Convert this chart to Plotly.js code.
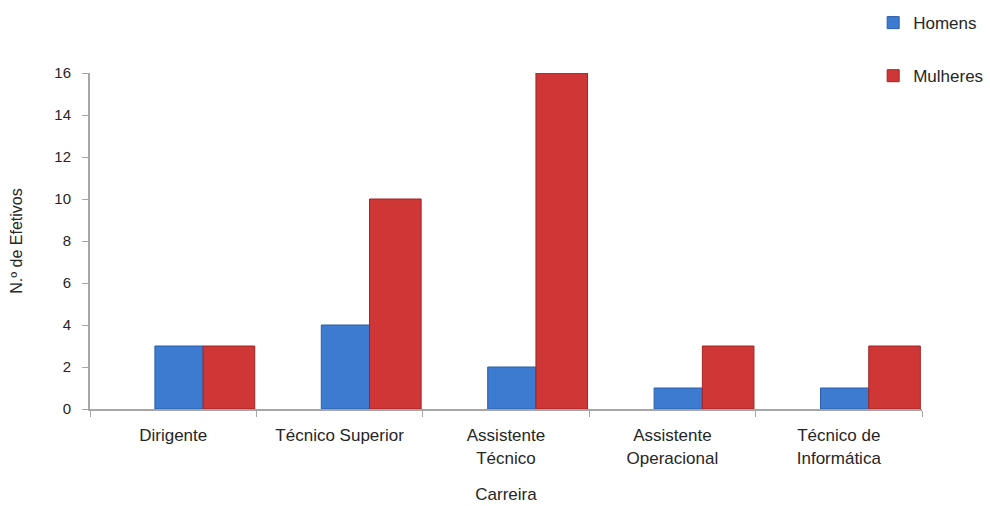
<!DOCTYPE html>
<html>
<head>
<meta charset="utf-8">
<script src="https://cdn.plot.ly/plotly-3.0.1.min.js"></script>
<style>html,body{margin:0;padding:0;background:#fff;}#chart{width:990px;height:506px;}</style>
</head>
<body>
<div id="chart"></div>
<script>
const categories = ["Dirigente", "Técnico Superior", "Assistente<br>Técnico", "Assistente<br>Operacional", "Técnico de<br>Informática"];
const homens = [3, 4, 2, 1, 1];
const mulheres = [3, 10, 16, 3, 3];
const seriesNames = ["Homens", "Mulheres"];

const traces = [
  {
    type: "bar", name: seriesNames[0], x: categories, y: homens,
    offset: -0.11, width: 0.29,
    marker: {color: "#3c7bd0", line: {color: "#2a5ea8", width: 1}},
    legendgroup: "a"
  },
  {
    type: "bar", name: seriesNames[1], x: categories, y: mulheres,
    offset: 0.18, width: 0.31,
    marker: {color: "#cf3636", line: {color: "#a02424", width: 1}},
    legendgroup: "b"
  }
];

const layout = {
  width: 990, height: 506,
  margin: {l: 90, r: 68, t: 73, b: 97, autoexpand: false},
  paper_bgcolor: "#ffffff", plot_bgcolor: "#ffffff",
  font: {family: "Liberation Sans, Arial, sans-serif", size: 15, color: "#262626"},
  barmode: "overlay",
  showlegend: true,
  legend: {
    x: 0.882, xref: "container", xanchor: "left",
    y: 0.99, yref: "container", yanchor: "top",
    traceorder: "grouped", tracegroupgap: 28,
    itemwidth: 30, font: {size: 17, color: "#262626"},
    bgcolor: "rgba(0,0,0,0)"
  },
  xaxis: {
    type: "category", range: [-0.5, 4.5],
    tickson: "boundaries", ticks: "outside", ticklen: 6, tickcolor: "#a6a6a6",
    showline: true, linecolor: "#a6a6a6", linewidth: 2,
    showgrid: false, zeroline: false,
    tickfont: {size: 17}, ticklabelstandoff: 10,
    title: {text: "Carreira", font: {size: 17}, standoff: 22}
  },
  yaxis: {
    range: [0, 16], dtick: 2, tick0: 0,
    ticks: "outside", ticklen: 6, tickcolor: "#a6a6a6",
    showline: true, linecolor: "#a6a6a6", linewidth: 2,
    showgrid: false, zeroline: false,
    tickfont: {size: 15}, ticklabelstandoff: 8,
    title: {text: "N.º de Efetivos", font: {size: 16}, standoff: 28}
  }
};

Plotly.newPlot("chart", traces, layout, {displayModeBar: false, staticPlot: true});
</script>
</body>
</html>
